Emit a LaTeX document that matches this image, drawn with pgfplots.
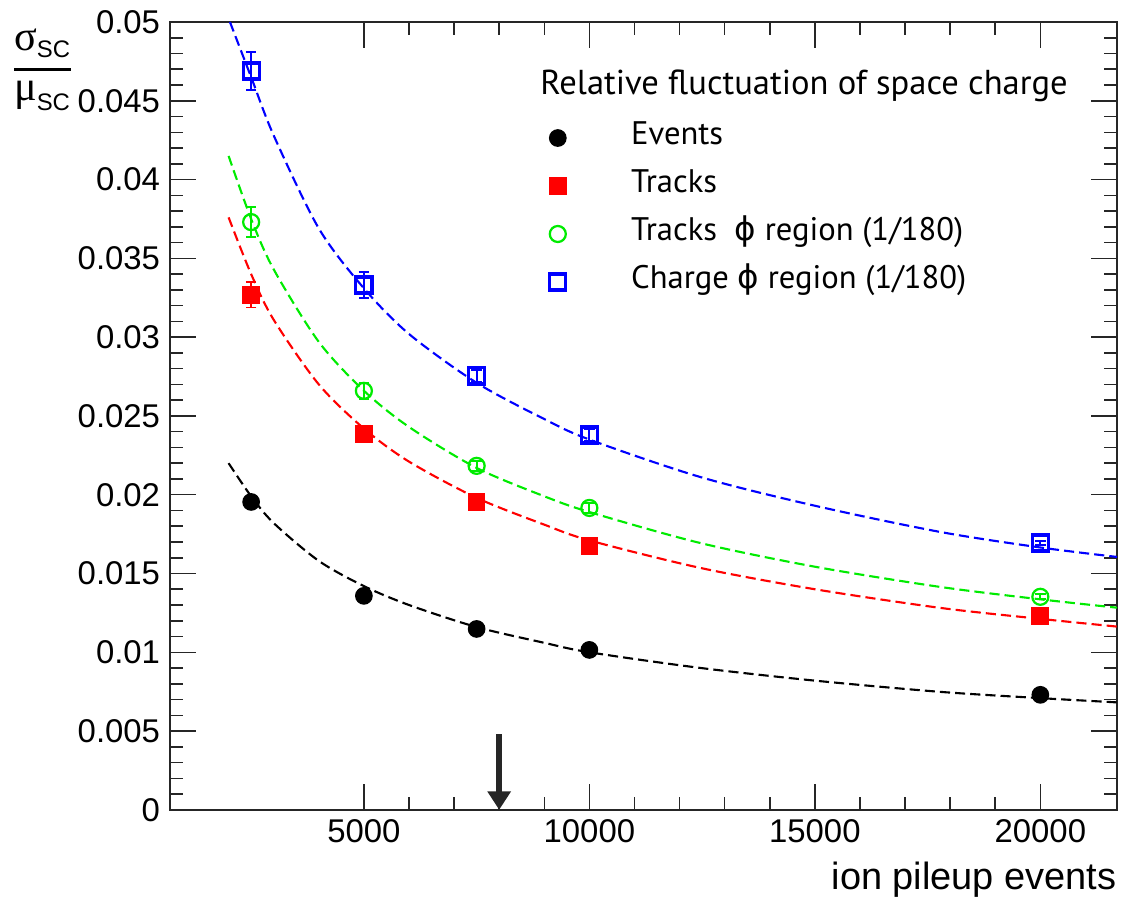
\documentclass[border=0pt]{standalone}
\usepackage{pgfplots}
\pgfplotsset{compat=1.18}
\usepackage{pgfplotstable}
\usepackage{fontspec}
\setmainfont{Liberation Sans}
\newfontfamily\legfont{PT Sans}
\newfontfamily\greekfont{Liberation Serif}
\newfontfamily\symfont{DejaVu Sans}
\usetikzlibrary{arrows.meta}

\definecolor{rgreen}{RGB}{0,235,0}

% measured points: x  y  error
\pgfplotstableread{
x y ey
2500 0.01954 0.0002
5000 0.01358 0.0002
7500 0.01148 0.0002
10000 0.01015 0.0002
20000 0.00730 0.0002
}\events
\pgfplotstableread{
x y ey
2500 0.03268 0.0008
5000 0.02386 0.0005
7500 0.01954 0.0003
10000 0.01675 0.0003
20000 0.01231 0.0003
}\tracks
\pgfplotstableread{
x y ey
2500 0.03730 0.00095
5000 0.02659 0.0005
7500 0.02183 0.0003
10000 0.01916 0.0003
20000 0.01352 0.00015
}\tracksphi
\pgfplotstableread{
x y ey
2500 0.04689 0.0012
5000 0.03331 0.0008
7500 0.02754 0.0004
10000 0.02379 0.0004
20000 0.01694 0.00015
}\chargephi

% fit curves
\pgfplotstableread{
x ev tr tp
2000 0.0220 0.0376 0.0415
2500 0.0199 0.0340 0.0375
3000 0.0182 0.0311 0.0343
4000 0.0158 0.0270 0.0297
5000 0.0142 0.0242 0.0266
6000 0.0130 0.0221 0.0243
7500 0.0116 0.0198 0.0217
9000 0.0106 0.0181 0.0199
10000 0.0100 0.0171 0.0189
12450 0.00901 0.01536 0.01694
15000 0.0082 0.0140 0.01543
17772 0.00749 0.01282 0.01415
20000 0.00709 0.01212 0.01336
21700 0.00682 0.01163 0.01283
}\fits
\pgfplotstableread{
x ch
2030 0.0500
2500 0.0465
3000 0.0428
4000 0.0369
5000 0.0331
6000 0.0302
7500 0.0271
9000 0.0248
10000 0.0235
12450 0.02113
15000 0.0193
17772 0.01764
20000 0.01665
21700 0.01605
}\fitch

\begin{document}
\begin{tikzpicture}
\begin{axis}[
    scale only axis,
    width=118.4mm,
    height=98.5mm,
    xmin=700, xmax=21700,
    ymin=0, ymax=0.05,
    scaled x ticks=false,
    scaled y ticks=false,
    xtick={5000,10000,15000,20000},
    ytick={0,0.005,0.01,0.015,0.02,0.025,0.03,0.035,0.04,0.045,0.05},
    yticklabels={0,0.005,0.01,0.015,0.02,0.025,0.03,0.035,0.04,0.045,0.05},
    xticklabels={5000,10000,15000,20000},
    minor x tick num=4,
    minor y tick num=4,
    major tick length=3.2mm,
    minor tick length=1.6mm,
    tick align=inside,
    axis line style={line width=0.55pt, black!85},
    tick style={line width=0.55pt, black!85},
    ticklabel style={font=\fontsize{11.7}{14}\selectfont},
    /pgf/number format/assume math mode=true,
    clip=false,
    legend style={draw=none, fill=none, inner sep=0pt,
        at={(axis cs:9080,0.04356)}, anchor=north west,
        font=\legfont\fontsize{11.6}{13}\selectfont,
        row sep=2.5mm,
        nodes={inner sep=0pt, text height=2.6mm, text depth=0.9mm}},
    legend cell align=left,
    legimg/.style={legend image code/.code={
        \draw[##1] plot coordinates {(0mm,0mm)};
        \path (-1.1mm,0mm) (9.1mm,0mm);}},
    fitline/.style={line width=0.75pt, dash pattern=on 3.6pt off 1.8pt, smooth, forget plot},
    error bars/y dir=both,
    error bars/y explicit,
    error bars/error mark options={rotate=90, mark size=0.65mm, line width=0.7pt},
]
% invisible frame fixing the picture size
\path ([xshift=-21.25mm,yshift=-10.75mm]rel axis cs:0,0) rectangle ([xshift=1.875mm,yshift=2.75mm]rel axis cs:1,1);

\addplot[fitline, black] table[x=x,y=ev] {\fits};
\addplot[fitline, red] table[x=x,y=tr] {\fits};
\addplot[fitline, rgreen] table[x=x,y=tp] {\fits};
\addplot[fitline, blue] table[x=x,y=ch] {\fitch};

\addplot[only marks, black, mark=*, mark size=2.95pt, legimg,
    error bars/error bar style={line width=0.7pt, black}]
    table[x=x,y=y,y error=ey] {\events};
\addlegendentry{Events}
\addplot[only marks, red, mark=square*, mark size=2.95pt, legimg,
    error bars/error bar style={line width=0.7pt, red}]
    table[x=x,y=y,y error=ey] {\tracks};
\addlegendentry{Tracks}
\addplot[only marks, rgreen, mark=o, mark size=2.85pt, mark options={line width=0.8pt}, legimg,
    error bars/error bar style={line width=0.7pt, rgreen}]
    table[x=x,y=y,y error=ey] {\tracksphi};
\addlegendentry{Tracks \ {\symfont ϕ} region (1/180)}
\addplot[only marks, blue, mark=square, mark size=2.85pt, mark options={line width=1.15pt}, legimg,
    error bars/error bar style={line width=0.7pt, blue}]
    table[x=x,y=y,y error=ey] {\chargephi};
\addlegendentry{Charge {\symfont ϕ} region (1/180)}

\node[anchor=base west, font=\legfont\fontsize{12.3}{14}\selectfont, inner sep=0pt]
    at (axis cs:8902,0.04537) {Relative fluctuation of space charge};

\draw[line width=2.1pt, black!85, -{Triangle[width=2.8mm,length=2.3mm]}]
    (axis cs:8000,0.0048) -- (axis cs:8000,0);

\node[anchor=base east, inner sep=0pt, font=\fontsize{13.5}{16}\selectfont]
    at ([yshift=-10mm]rel axis cs:1,0) {ion pileup events};

\node[inner sep=0pt] at ([xshift=-15.9mm,yshift=-6mm]rel axis cs:0,1)
    {$\displaystyle{\mbox{\greekfont\fontsize{15}{16}\selectfont σ}_{\mbox{\fontsize{8.5}{10}\selectfont SC}}
      \above 1.2pt
      \mbox{\greekfont\fontsize{15}{16}\selectfont μ}_{\mbox{\fontsize{8.5}{10}\selectfont SC}}}$};
\end{axis}
\end{tikzpicture}
\end{document}
